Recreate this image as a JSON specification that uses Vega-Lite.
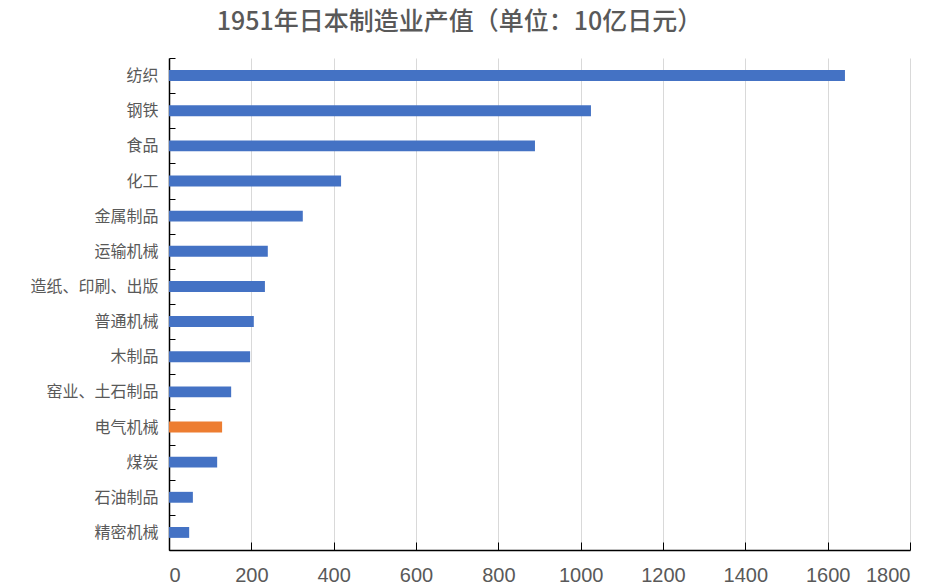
{
  "$schema": "https://vega.github.io/schema/vega-lite/v6.json",
  "autosize": {"type": "none"},
  "width": 741,
  "height": 492,
  "padding": {"left": 169, "top": 58, "right": 24, "bottom": 36},
  "background": "white",
  "title": {
    "text": "1951年日本制造业产值（单位：10亿日元）",
    "anchor": "middle",
    "frame": "group",
    "dx": -80,
    "offset": 15,
    "fontSize": 25,
    "font": "Noto Sans CJK SC",
    "fontWeight": 500,
    "color": "#595959"
  },
  "data": {
    "values": [
      {"industry": "纺织", "value": 1642, "highlight": "no"},
      {"industry": "钢铁", "value": 1025, "highlight": "no"},
      {"industry": "食品", "value": 889, "highlight": "no"},
      {"industry": "化工", "value": 418, "highlight": "no"},
      {"industry": "金属制品", "value": 325, "highlight": "no"},
      {"industry": "运输机械", "value": 240, "highlight": "no"},
      {"industry": "造纸、印刷、出版", "value": 233, "highlight": "no"},
      {"industry": "普通机械", "value": 206, "highlight": "no"},
      {"industry": "木制品", "value": 197, "highlight": "no"},
      {"industry": "窑业、土石制品", "value": 151, "highlight": "no"},
      {"industry": "电气机械", "value": 129, "highlight": "yes"},
      {"industry": "煤炭", "value": 117, "highlight": "no"},
      {"industry": "石油制品", "value": 58, "highlight": "no"},
      {"industry": "精密机械", "value": 49, "highlight": "no"}
    ]
  },
  "mark": {"type": "bar", "height": {"band": 0.31}},
  "encoding": {
    "y": {
      "field": "industry",
      "type": "nominal",
      "sort": null,
      "scale": {"paddingInner": 0, "paddingOuter": 0},
      "axis": {
        "title": null,
        "domainColor": "#000000",
        "domainWidth": 1.5,
        "tickColor": "#000000",
        "tickSize": -6,
        "tickBand": "extent",
        "labelFont": "Noto Sans CJK SC",
        "labelFontSize": 16,
        "labelColor": "#595959",
        "labelPadding": 17,
        "grid": false
      }
    },
    "x": {
      "field": "value",
      "type": "quantitative",
      "scale": {"domain": [0, 1800], "nice": false},
      "axis": {
        "title": null,
        "values": [0, 200, 400, 600, 800, 1000, 1200, 1400, 1600, 1800],
        "format": "d",
        "domainColor": "#000000",
        "domainWidth": 1.5,
        "tickColor": "#000000",
        "tickSize": -8,
        "labelFont": "Liberation Sans",
        "labelFontSize": 20,
        "labelColor": "#595959",
        "labelPadding": 23,
        "gridColor": "#d9d9d9",
        "gridWidth": 1
      }
    },
    "color": {
      "field": "highlight",
      "type": "nominal",
      "scale": {"domain": ["no", "yes"], "range": ["#4472C4", "#ED7D31"]},
      "legend": null
    }
  },
  "config": {"view": {"stroke": null}}
}
